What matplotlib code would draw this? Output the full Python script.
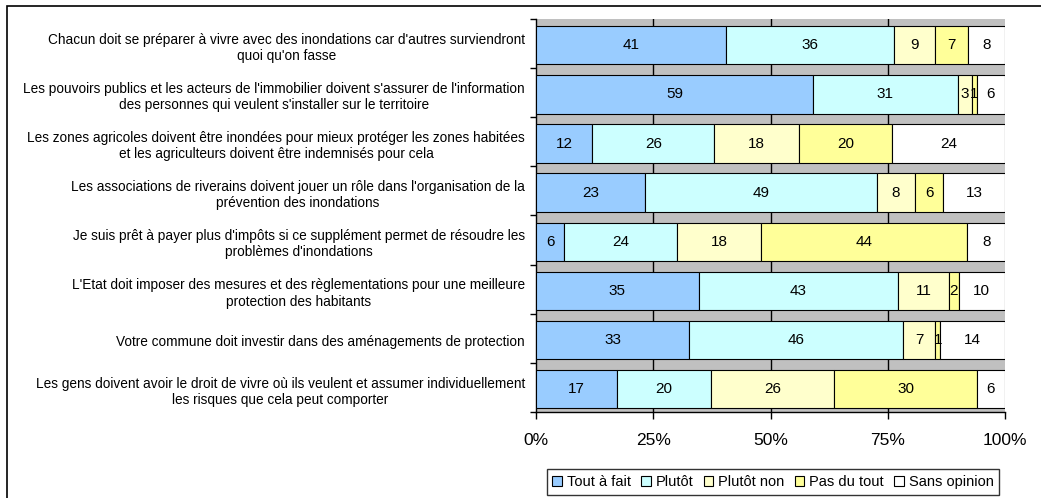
import matplotlib
matplotlib.use("Agg")
import matplotlib.pyplot as plt
from matplotlib.patches import Rectangle
from matplotlib.ticker import FixedLocator, FuncFormatter
import numpy as np

plt.rcParams['font.family'] = ['Liberation Sans', 'DejaVu Sans']

statements = [
    "Chacun doit se préparer à vivre avec des inondations car d'autres surviendront\nquoi qu'on fasse",
    "Les pouvoirs publics et les acteurs de l'immobilier doivent s'assurer de l'information\ndes personnes qui veulent s'installer sur le territoire",
    "Les zones agricoles doivent être inondées pour mieux protéger les zones habitées\net les agriculteurs doivent être indemnisés pour cela",
    "Les associations de riverains doivent jouer un rôle dans l'organisation de la\nprévention des inondations",
    "Je suis prêt à payer plus d'impôts si ce supplément permet de résoudre les\nproblèmes d'inondations",
    "L'Etat doit imposer des mesures et des règlementations pour une meilleure\nprotection des habitants",
    "Votre commune doit investir dans des aménagements de protection",
    "Les gens doivent avoir le droit de vivre où ils veulent et assumer individuellement\nles risques que cela peut comporter",
]

answers = ["Tout à fait", "Plutôt", "Plutôt non", "Pas du tout", "Sans opinion"]
tout_a_fait = [41, 59, 12, 23, 6, 35, 33, 17]
plutot = [36, 31, 26, 49, 24, 43, 46, 20]
plutot_non = [9, 3, 18, 8, 18, 11, 7, 26]
pas_du_tout = [7, 1, 20, 6, 44, 2, 1, 30]
sans_opinion = [8, 6, 24, 13, 8, 10, 14, 6]
colors = ["#99CCFF", "#CCFFFF", "#FFFFCC", "#FFFF99", "#FFFFFF"]

series = np.array([tout_a_fait, plutot, plutot_non, pas_du_tout, sans_opinion], dtype=float)
totals = series.sum(axis=0)
shares = series / totals * 100

fig = plt.figure(figsize=(10.41, 4.98), dpi=100)
W, H = 1041, 498
ax = fig.add_axes([536 / W, 1 - 412 / H, (1005 - 536) / W, (412 - 19) / H])
ax.set_facecolor("#C0C0C0")

# outer frame of the chart
fig.patches.append(Rectangle((7 / W, -0.5), 1.5, 1 - 6 / H + 0.5, transform=fig.transFigure,
                             fill=False, edgecolor="black", linewidth=1.2, zorder=0))

y = np.arange(len(statements))
bar_pos = y + 0.035
left = np.zeros(len(statements))
handles = []
for k in range(len(answers)):
    bars = ax.barh(bar_pos, shares[k], left=left, height=0.78, color=colors[k],
                   edgecolor="black", linewidth=0.8, zorder=3, label=answers[k])
    handles.append(bars)
    for i in range(len(statements)):
        ax.text(left[i] + shares[k][i] / 2, bar_pos[i], f"{int(series[k][i])}",
                ha="center", va="center", fontsize=11, zorder=4)
    left += shares[k]

ax.set_xlim(0, 100)
ax.set_ylim(len(statements) - 0.5, -0.5)

for xv in (25, 50, 75):
    ax.axvline(xv, color="black", linewidth=1.0, zorder=1)

ax.set_xticks([0, 25, 50, 75, 100])
ax.xaxis.set_major_formatter(FuncFormatter(lambda v, p: f"{int(v)}%"))
ax.tick_params(axis="x", direction="out", length=5, width=1, labelsize=12.5, pad=10)

ax.set_yticks(bar_pos)
ax.set_yticklabels(statements, fontsize=9.8, multialignment="center")
ax.tick_params(axis="y", which="major", length=0, pad=8)
ax.yaxis.set_minor_locator(FixedLocator(np.arange(-0.5, len(statements), 1.0)))
ax.tick_params(axis="y", which="minor", direction="out", length=4, width=1)

for side in ("top", "right"):
    ax.spines[side].set_visible(False)
ax.spines["left"].set_linewidth(1)
ax.spines["bottom"].set_linewidth(1)

leg = fig.legend(handles=handles, labels=answers, loc="center",
                 bbox_to_anchor=(773 / W, 1 - 482 / H), ncol=5, frameon=True,
                 fontsize=10.5, handlelength=0.65, handleheight=0.65, handletextpad=0.35,
                 columnspacing=0.7, borderpad=0.4, fancybox=False)
leg.get_frame().set_edgecolor("black")
leg.get_frame().set_linewidth(1)

fig.savefig("out.png", dpi=100)
